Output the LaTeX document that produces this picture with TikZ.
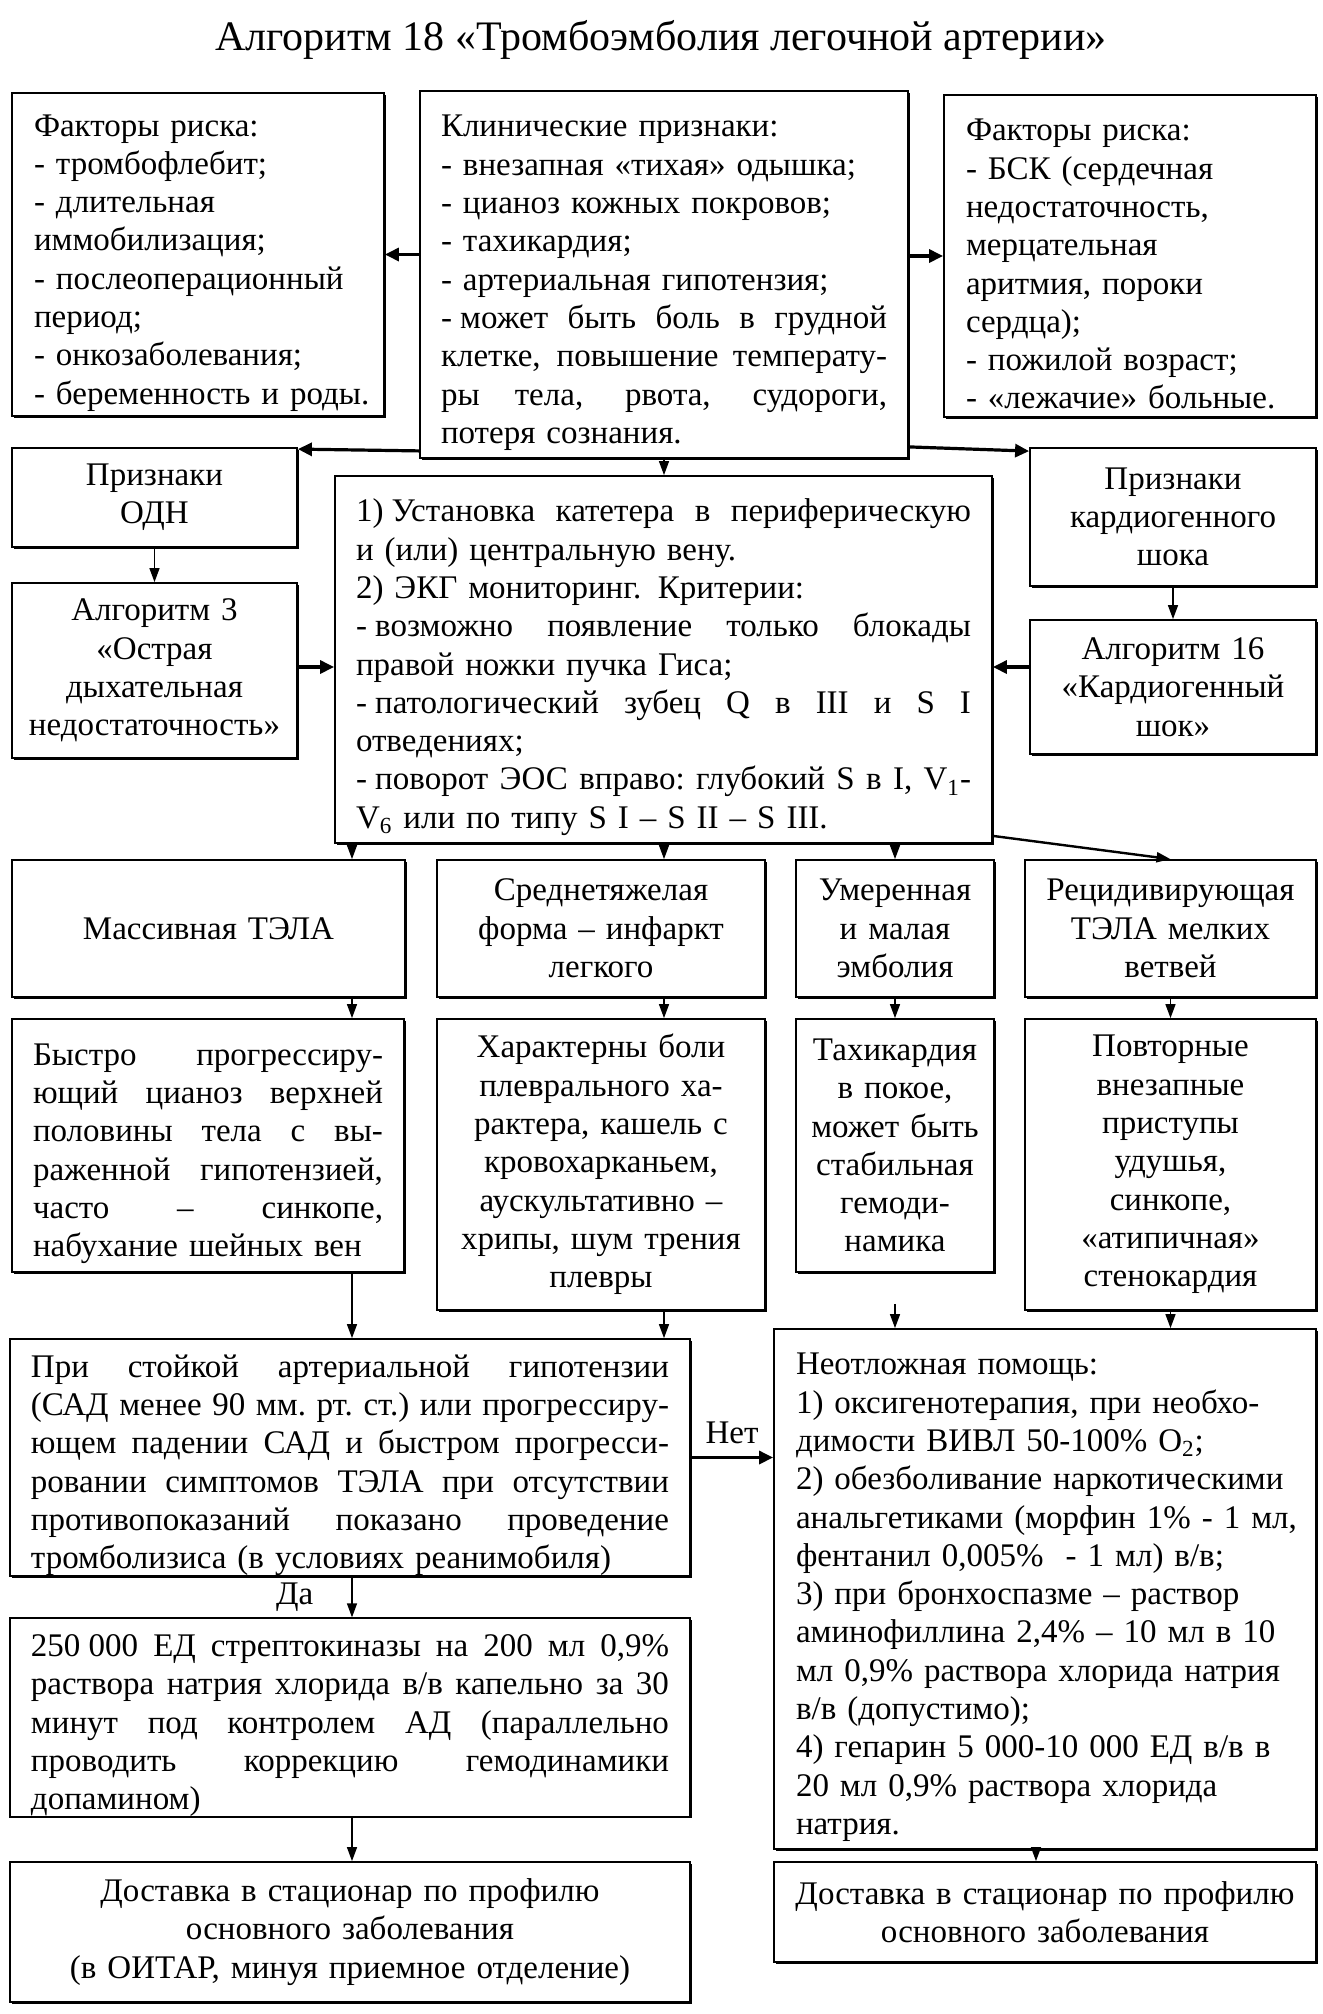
\documentclass[tikz,border=0pt]{standalone}
\usepackage{fontspec}
\setmainfont{Liberation Serif}
\usetikzlibrary{arrows.meta,calc,shadows}
\newcommand\JL[1]{\par\hbox to\tw{\spaceskip=\fontdimen2\font plus 1fil\xspaceskip=\spaceskip #1}}
\newcommand\RL[1]{\par\hbox to\tw{#1\hfil}}
\newcommand\DS{\mbox{- }}
\begin{document}
\begin{tikzpicture}[x=0.5pt,y=-0.5pt,
 txt/.style={font=\fontsize{16.5}{19.15}\selectfont},
 box/.style={txt, draw, line width=0.9pt, fill=white, inner sep=0pt,
   drop shadow={shadow xshift=0.8pt,shadow yshift=-0.8pt,fill=black,opacity=1}},
 arr/.style={-{Triangle[length=7pt,width=5pt]}, line width=0.7pt},
 tarr/.style={-{Triangle[length=7pt,width=6.5pt]}, line width=1.6pt}]
\useasboundingbox (0,0) rectangle (1323,2014);

\node[font=\fontsize{21}{24}\selectfont] (title) at (661,40) {Алгоритм 18 «Тромбоэмболия легочной артерии»};

\node[box, minimum width=186pt, minimum height=161.5pt, text width=164pt] (risk1) at (198,254.5)
 {\def\tw{164pt}\RL{Факторы риска:}\RL{- тромбофлебит;}\RL{- длительная}\RL{иммобилизация;}\RL{- послеоперационный}\RL{период;}\RL{- онкозаболевания;}\RL{- беременность и роды.}};

\node[box, minimum width=244pt, minimum height=183.5pt, text width=223pt] (clin) at (664,274.5)
 {\def\tw{223pt}\RL{Клинические признаки:}\RL{- внезапная «тихая» одышка;}\RL{- цианоз кожных покровов;}\RL{- тахикардия;}\RL{- артериальная гипотензия;}\JL{\DS может быть боль в грудной}\JL{клетке, повышение температу-}\JL{ры тела, рвота, судороги,}\RL{потеря сознания.}};

\node[box, minimum width=186pt, minimum height=161pt, text width=164pt] (risk2) at (1130,256)
 {\def\tw{164pt}\RL{Факторы риска:}\RL{- БСК (сердечная}\RL{недостаточность,}\RL{мерцательная}\RL{аритмия, пороки}\RL{сердца);}\RL{- пожилой возраст;}\RL{- «лежачие» больные.}};

\node[box, minimum width=142.5pt, minimum height=49.5pt, text width=136pt, align=center] (odn) at (154.5,497.5)
 {Признаки\\ОДН};

\node[box, minimum width=328.5pt, minimum height=183.5pt, text width=307.5pt] (main) at (663.5,659.5)
 {\def\tw{307.5pt}\JL{\mbox{1) }Установка катетера в периферическую}\RL{и (или) центральную вену.}\RL{2) ЭКГ мониторинг. Критерии:}\JL{\DS возможно появление только блокады}\RL{правой ножки пучка Гиса;}\JL{\DS патологический зубец Q в III и S I}\RL{отведениях;}\JL{\DS поворот ЭОС вправо: глубокий S в I, V\textsubscript{1}-}\RL{V\textsubscript{6} или по типу S I – S II – S III.}};

\node[box, minimum width=143pt, minimum height=69pt, text width=136pt, align=center] (cshock) at (1173,517)
 {Признаки\\кардиогенного\\шока};

\node[box, minimum width=142.5pt, minimum height=87.5pt, text width=136pt, align=center] (alg3) at (154.5,670.5)
 {Алгоритм 3\\«Острая\\дыхательная\\недостаточность»};

\node[box, minimum width=143pt, minimum height=67pt, text width=136pt, align=center] (alg16) at (1173,687)
 {Алгоритм 16\\«Кардиогенный\\шок»};

\node[box, minimum width=196.5pt, minimum height=68.5pt, text width=175pt, align=center] (massive) at (208.5,928.5)
 {Массивная ТЭЛА};
\node[box, minimum width=164pt, minimum height=68.5pt, text width=158pt, align=center] (sred) at (601,928.5)
 {Среднетяжелая\\форма – инфаркт\\легкого};
\node[box, minimum width=99pt, minimum height=68.5pt, text width=94pt, align=center] (umer) at (895,928.5)
 {Умеренная\\и малая\\эмболия};
\node[box, minimum width=145.5pt, minimum height=68.5pt, text width=140pt, align=center] (recid) at (1170.5,928.5)
 {Рецидивирующая\\ТЭЛА мелких\\ветвей};

\node[box, minimum width=196pt, minimum height=126.5pt, text width=175pt] (fast) at (208,1145.5)
 {\def\tw{175pt}\JL{Быстро прогрессиру-}\JL{ющий цианоз верхней}\JL{половины тела с вы-}\JL{раженной гипотензией,}\JL{часто – синкопе,}\RL{набухание шейных вен}};
\node[box, minimum width=164pt, minimum height=145.5pt, text width=158pt, align=center] (harakt) at (601,1164.5)
 {Характерны боли\\плеврального ха-\\рактера, кашель с\\кровохарканьем,\\аускультативно –\\хрипы, шум трения\\плевры};
\node[box, minimum width=99pt, minimum height=126.5pt, text width=94pt, align=center] (tahi) at (895,1145.5)
 {Тахикардия\\в покое,\\может быть\\стабильная\\гемоди-\\намика};
\node[box, minimum width=145.5pt, minimum height=145.5pt, text width=140pt, align=center] (povt) at (1170.5,1164.5)
 {Повторные\\внезапные\\приступы\\удушья,\\синкопе,\\«атипичная»\\стенокардия};

\node[box, minimum width=340pt, minimum height=114.5pt, text width=319pt] (pri) at (350,1457.5)
 {\def\tw{319pt}\JL{При стойкой артериальной гипотензии}\JL{(САД менее 90 мм. рт. ст.) или прогрессиру-}\JL{ющем падении САД и быстром прогресси-}\JL{ровании симптомов ТЭЛА при отсутствии}\JL{противопоказаний показано проведение}\RL{тромболизиса (в условиях реанимобиля)}};

\node[box, minimum width=271pt, minimum height=260pt, text width=249pt] (neotl) at (1045,1589)
 {\def\tw{249pt}\RL{Неотложная помощь:}\RL{1) оксигенотерапия, при необхо-}\RL{димости ВИВЛ 50-100\% O\textsubscript{2};}\RL{2) обезболивание наркотическими}\RL{анальгетиками (морфин 1\% - 1 мл,}\RL{фентанил 0,005\%~~- 1 мл) в/в;}\RL{3) при бронхоспазме – раствор}\RL{аминофиллина 2,4\% – 10 мл в 10}\RL{мл 0,9\% раствора хлорида натрия}\RL{в/в (допустимо);}\RL{4) гепарин 5 000-10 000 ЕД в/в в}\RL{20 мл 0,9\% раствора хлорида}\RL{натрия.}};

\node[box, minimum width=340pt, minimum height=97.5pt, text width=319pt] (strep) at (350,1717.5)
 {\def\tw{319pt}\JL{\mbox{250 000} ЕД стрептокиназы на 200 мл 0,9\%}\JL{раствора натрия хлорида в/в капельно за 30}\JL{минут под контролем АД (параллельно}\JL{проводить коррекцию гемодинамики}\RL{допамином)}};

\node[box, minimum width=340pt, minimum height=70pt, text width=330pt, align=center] (dost1) at (350,1932)
 {Доставка в стационар по профилю\\основного заболевания\\(в ОИТАР, минуя приемное отделение)};
\node[box, minimum width=271pt, minimum height=50pt, text width=262pt, align=center] (dost2) at (1045,1912)
 {Доставка в стационар по профилю\\основного заболевания};

\coordinate (xa) at (352,0);
\coordinate (xb) at (664,0);
\coordinate (xe) at (1036,0);
\coordinate (ym) at (0,667);

\draw[tarr] (clin.west |- risk1.east) -- (risk1.east);
\draw[tarr] (clin.east |- risk2.west) -- (risk2.west);
\draw[tarr] ($(clin.south west)+(0,-8)$) -- ($(odn.north east)+(0,2)$);
\draw[tarr] ($(clin.south east)+(0,-12)$) -- ($(cshock.north west)+(0,4)$);
\draw[arr] (clin.south) -- (clin.south |- main.north);
\draw[arr] (odn.south) -- (alg3.north);
\draw[arr] (cshock.south) -- (alg16.north);
\draw[tarr] (alg3.east |- ym) -- (main.west |- ym);
\draw[tarr] (alg16.west |- ym) -- (main.east |- ym);

\draw[arr] (main.south -| xa) -- (massive.north -| xa);
\draw[arr] (main.south -| xb) -- (sred.north -| xb);
\draw[arr] (main.south -| umer.north) -- (umer.north);
\draw[arr, line width=1.2pt] ($(main.south east)+(0,-8)$) -- (recid.north);

\draw[arr] (massive.south -| xa) -- (fast.north -| xa);
\draw[arr] (sred.south -| xb) -- (harakt.north -| xb);
\draw[arr] (umer.south) -- (tahi.north);
\draw[arr] (recid.south) -- (povt.north);

\draw[arr] (fast.south -| xa) -- (pri.north -| xa);
\draw[arr] (harakt.south -| xb) -- (pri.north -| xb);
\draw[arr] ($(tahi.south)+(0,31)$) -- (neotl.north -| tahi.south);
\draw[arr] (povt.south) -- (neotl.north -| povt.south);

\draw[tarr] (pri.east) -- (neotl.west |- pri.east) node[midway, above=6pt, inner sep=0pt, txt] (net) {Нет};
\draw[arr] (pri.south -| xa) -- (strep.north -| xa) node[midway, left=19pt, inner sep=0pt, txt] (da) {Да};
\draw[arr] (strep.south -| xa) -- (dost1.north -| xa);
\draw[arr] (neotl.south -| xe) -- (dost2.north -| xe);
\end{tikzpicture}
\end{document}
